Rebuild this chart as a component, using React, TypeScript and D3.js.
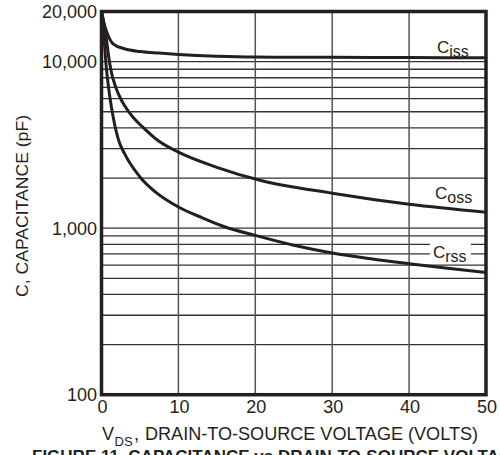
import React, { useEffect, useRef } from "react";
import { select, scaleLinear, scaleLog, line, curveMonotoneX, format } from "d3";

// values (VDS in volts, C in pF)
const cissV = [0, 0.4, 0.85, 1.5, 3, 5, 7.5, 10, 15, 20, 30, 40, 50];
const cissC = [20000, 16500, 14400, 12800, 11950, 11500, 11250, 11050, 10780, 10650, 10610, 10570, 10540];

const cossV = [0, 0.58, 0.91, 1.23, 1.56, 2.0, 2.4, 3.05, 4.1, 5.4, 7.3, 10, 15, 20.6, 30, 40, 50];
const cossC = [20000, 14380, 10910, 8870, 7730, 6730, 6110, 5390, 4630, 4030, 3370, 2860, 2320, 1940, 1622, 1393, 1247];

const crssV = [0, 0.3, 0.6, 1.05, 1.5, 2.2, 3, 5, 7, 10, 13, 16, 20, 25, 30, 35, 40, 45, 50];
const crssC = [20000, 14400, 9500, 6300, 4700, 3400, 2800, 2030, 1650, 1340, 1160, 1020, 905, 790, 710, 655, 612, 575, 542];

const xTicks = [0, 10, 20, 30, 40, 50];
const yTicks = [100, 1000, 10000, 20000];
const yGrid = [200, 300, 400, 500, 600, 700, 800, 900, 1000, 2000, 3000, 4000, 5000, 6000, 7000, 8000, 9000, 10000];

const series = [
    { name: "iss", v: cissV, c: cissC, lx: 437, ly: 53 },
    { name: "oss", v: cossV, c: cossC, lx: 435, ly: 199 },
    { name: "rss", v: crssV, c: crssC, lx: 433, ly: 258 },
];

const ink = "#231f20";
const font = "'Liberation Sans', Arial, Helvetica, sans-serif";

function CapacitanceChart() {
    const svgRef = useRef();

    useEffect(() => {
        const svg = select(svgRef.current);
        svg.selectAll("*").remove();

        const x = scaleLinear().domain([0, 50]).range([101.5, 486]);
        const y = scaleLog().domain([100, 20000]).range([394.7, 11.5]);
        const [x0, x1] = x.range();
        const [y0, y1] = y.range();

        const grid = svg.append("g");
        grid.selectAll(".hgrid")
            .data(yGrid)
            .join("line")
            .attr("x1", x0).attr("x2", x1)
            .attr("y1", d => y(d)).attr("y2", d => y(d))
            .attr("stroke", "#333").attr("stroke-width", 1.3);
        grid.selectAll(".vgrid")
            .data(xTicks.slice(1, -1))
            .join("line")
            .attr("x1", d => x(d)).attr("x2", d => x(d))
            .attr("y1", y0).attr("y2", y1)
            .attr("stroke", "#555").attr("stroke-width", 1.5);

        // knock-out behind the Crss label
        svg.append("rect")
            .attr("x", 430).attr("y", 240).attr("width", 41).attr("height", 22)
            .attr("fill", "#fff");

        const path = line().curve(curveMonotoneX);
        svg.selectAll(".curve")
            .data(series)
            .join("path")
            .attr("d", s => path(s.v.map((v, i) => [x(v), y(s.c[i])])))
            .attr("fill", "none")
            .attr("stroke", ink)
            .attr("stroke-width", 3)
            .attr("stroke-linejoin", "round");

        // frame
        svg.append("rect")
            .attr("x", x0).attr("y", y1)
            .attr("width", x1 - x0).attr("height", y0 - y1)
            .attr("fill", "none").attr("stroke", ink).attr("stroke-width", 3.5);

        const labels = svg.selectAll(".lbl")
            .data(series)
            .join("text")
            .attr("x", s => s.lx).attr("y", s => s.ly)
            .attr("font-family", font).attr("font-size", 17).attr("fill", ink);
        labels.append("tspan").text("C");
        labels.append("tspan").attr("dy", 4).attr("font-size", 16).text(s => s.name);

        const fmt = format(",");
        svg.selectAll(".ytick")
            .data(yTicks)
            .join("text")
            .attr("x", 97).attr("y", d => y(d)).attr("dy", "0.36em")
            .attr("text-anchor", "end")
            .attr("font-family", font).attr("font-size", 18).attr("fill", ink)
            .text(d => fmt(d));

        svg.selectAll(".xtick")
            .data(xTicks)
            .join("text")
            .attr("x", d => x(d) + 1).attr("y", 413)
            .attr("text-anchor", "middle")
            .attr("font-family", font).attr("font-size", 18).attr("fill", ink)
            .text(d => d);

        svg.append("text")
            .attr("transform", "translate(28,206) rotate(-90)")
            .attr("text-anchor", "middle")
            .attr("font-family", font).attr("font-size", 17).attr("fill", ink)
            .attr("textLength", 182).attr("lengthAdjust", "spacingAndGlyphs")
            .text("C, CAPACITANCE (pF)");

        svg.append("text")
            .attr("x", 102).attr("y", 440)
            .attr("font-family", font).attr("font-size", 18).attr("fill", ink)
            .text("V");
        svg.append("text")
            .attr("x", 114.5).attr("y", 446)
            .attr("font-family", font).attr("font-size", 13).attr("fill", ink)
            .text("DS");
        svg.append("text")
            .attr("x", 134).attr("y", 440)
            .attr("font-family", font).attr("font-size", 18).attr("fill", ink)
            .text(",");
        svg.append("text")
            .attr("x", 145).attr("y", 440)
            .attr("font-family", font).attr("font-size", 18).attr("fill", ink)
            .attr("textLength", 333).attr("lengthAdjust", "spacingAndGlyphs")
            .text("DRAIN-TO-SOURCE VOLTAGE (VOLTS)");

        // caption sits partly below the picture edge, as in the source scan
        svg.append("text")
            .attr("x", 32).attr("y", 462)
            .attr("font-family", font).attr("font-size", 17).attr("font-weight", "bold").attr("fill", ink)
            .text("FIGURE 11. CAPACITANCE vs DRAIN-TO-SOURCE VOLTAGE");
    }, []);

    return (
        <svg ref={svgRef} width={500} height={455}
            style={{ position: "absolute", left: 0, top: 0, background: "#fff" }} />
    );
}

export default function App() {
    return <CapacitanceChart />;
}
